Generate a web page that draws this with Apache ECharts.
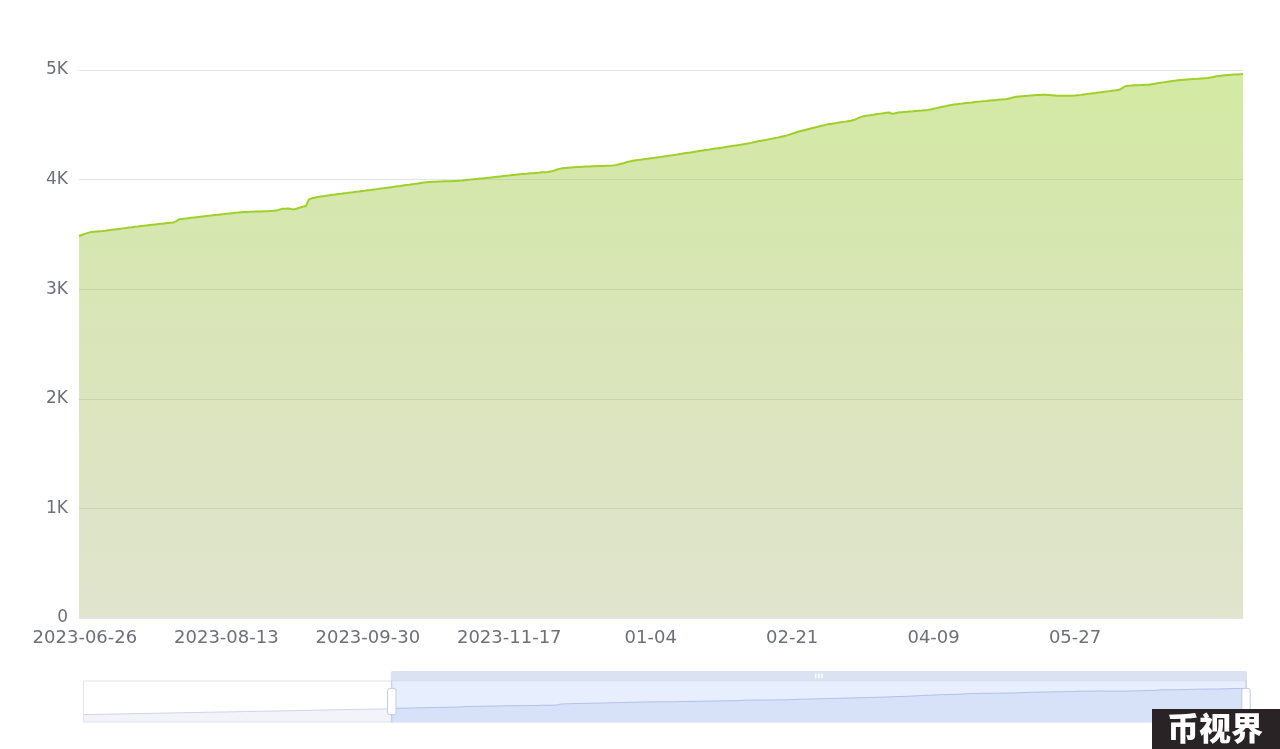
<!DOCTYPE html>
<html>
<head>
<meta charset="utf-8">
<script src="https://cdn.jsdelivr.net/npm/echarts@6/dist/echarts.min.js"></script>
<style>
html,body{margin:0;padding:0;background:#fff;}
#main{width:1280px;height:749px;}
</style>
</head>
<body>
<div id="main"></div>
<script>
// ---- data ----
const firstDate = '2023-02-02';
const lastDate = '2024-07-23';
const zoomStartDate = '2023-06-24';
const xTickLabels = ['2023-06-26', '2023-08-13', '2023-09-30', '2023-11-17', '01-04', '02-21', '04-09', '05-27'];
const yTickValues = [0, 1000, 2000, 3000, 4000, 5000];
const yTickLabels = ['0', '1K', '2K', '3K', '4K', '5K'];

// values before the zoom window (only seen in the slider shadow)
const earlyValues = [
  3052, 3055, 3057, 3061, 3063, 3066, 3070, 3072, 3075, 3079,
  3081, 3084, 3088, 3090, 3093, 3097, 3099, 3102, 3106, 3108,
  3111, 3115, 3118, 3120, 3124, 3127, 3129, 3133, 3136, 3139,
  3142, 3145, 3148, 3151, 3154, 3157, 3160, 3163, 3166, 3170,
  3172, 3175, 3179, 3181, 3185, 3188, 3190, 3194, 3197, 3199,
  3203, 3206, 3209, 3212, 3215, 3218, 3221, 3224, 3227, 3230,
  3233, 3236, 3240, 3242, 3245, 3249, 3251, 3255, 3258, 3260,
  3264, 3267, 3270, 3273, 3276, 3279, 3282, 3285, 3288, 3291,
  3294, 3297, 3300, 3303, 3306, 3309, 3312, 3315, 3318, 3321,
  3324, 3327, 3330, 3333, 3336, 3339, 3342, 3345, 3348, 3351,
  3354, 3357, 3360, 3363, 3366, 3369, 3372, 3375, 3378, 3381,
  3384, 3387, 3390, 3393, 3396, 3399, 3402, 3405, 3408, 3411,
  3414, 3417, 3420, 3423, 3426, 3429, 3432, 3435, 3438, 3441,
  3444, 3447, 3450, 3453, 3456, 3459, 3462, 3465, 3468, 3471,
  3476, 3480
];

// values inside the zoom window (2023-06-24 .. 2024-07-23)
const windowValues = [
  3485, 3495, 3505, 3514, 3521, 3525, 3527, 3529, 3531, 3534,
  3538, 3542, 3545, 3548, 3551, 3555, 3558, 3562, 3565, 3569,
  3572, 3576, 3579, 3582, 3585, 3588, 3591, 3594, 3597, 3600,
  3603, 3606, 3609, 3622, 3638, 3641, 3644, 3648, 3651, 3654,
  3657, 3660, 3664, 3667, 3670, 3673, 3676, 3679, 3682, 3685,
  3688, 3691, 3694, 3697, 3699, 3702, 3704, 3705, 3706, 3707,
  3708, 3709, 3710, 3711, 3712, 3714, 3715, 3717, 3726, 3734,
  3735, 3736, 3731, 3728, 3736, 3745, 3752, 3759, 3818, 3829,
  3835, 3841, 3845, 3849, 3853, 3857, 3861, 3864, 3868, 3871,
  3875, 3878, 3882, 3885, 3889, 3892, 3896, 3899, 3903, 3906,
  3910, 3913, 3917, 3920, 3924, 3927, 3931, 3935, 3939, 3942,
  3946, 3950, 3953, 3957, 3961, 3965, 3969, 3973, 3976, 3978,
  3980, 3981, 3982, 3983, 3984, 3985, 3986, 3987, 3988, 3990,
  3992, 3995, 3998, 4000, 4003, 4006, 4009, 4011, 4014, 4017,
  4020, 4023, 4026, 4029, 4032, 4035, 4038, 4041, 4044, 4047,
  4050, 4052, 4054, 4057, 4059, 4061, 4063, 4066, 4068, 4070,
  4073, 4080, 4090, 4098, 4104, 4106, 4108, 4110, 4112, 4114,
  4116, 4118, 4119, 4120, 4121, 4122, 4123, 4124, 4125, 4126,
  4127, 4128, 4132, 4138, 4145, 4152, 4160, 4166, 4172, 4177,
  4180, 4183, 4187, 4190, 4194, 4198, 4201, 4205, 4209, 4213,
  4217, 4221, 4225, 4229, 4234, 4238, 4242, 4246, 4250, 4255,
  4259, 4263, 4267, 4271, 4275, 4279, 4283, 4287, 4291, 4295,
  4300, 4304, 4308, 4312, 4316, 4320, 4325, 4330, 4335, 4341,
  4347, 4352, 4357, 4362, 4367, 4372, 4378, 4383, 4389, 4395,
  4401, 4410, 4419, 4428, 4436, 4443, 4450, 4457, 4464, 4471,
  4478, 4484, 4491, 4497, 4504, 4508, 4512, 4516, 4521, 4525,
  4529, 4533, 4537, 4543, 4556, 4568, 4577, 4582, 4586, 4590,
  4594, 4598, 4602, 4606, 4609, 4612, 4600, 4605, 4612, 4614,
  4616, 4618, 4621, 4623, 4626, 4628, 4630, 4633, 4635, 4640,
  4646, 4652, 4658, 4664, 4670, 4676, 4681, 4685, 4688, 4691,
  4695, 4698, 4701, 4704, 4708, 4711, 4713, 4716, 4718, 4721,
  4723, 4725, 4728, 4730, 4732, 4735, 4743, 4750, 4756, 4759,
  4761, 4763, 4765, 4767, 4769, 4771, 4773, 4775, 4774, 4772,
  4770, 4768, 4766, 4766, 4765, 4765, 4766, 4766, 4767, 4770,
  4773, 4777, 4780, 4784, 4788, 4791, 4795, 4798, 4801, 4805,
  4808, 4812, 4815, 4819, 4835, 4852, 4857, 4858, 4860, 4861,
  4862, 4864, 4865, 4866, 4870, 4874, 4879, 4883, 4887, 4891,
  4895, 4899, 4903, 4906, 4909, 4911, 4913, 4915, 4917, 4919,
  4921, 4923, 4925, 4927, 4932, 4937, 4942, 4946, 4949, 4952,
  4954, 4956, 4958, 4960, 4962, 4964
];

// ---- build categories (dates; 2023 with year, 2024 as MM-DD) ----
function fmtDate(d) {
  const y = d.getUTCFullYear();
  const m = String(d.getUTCMonth() + 1).padStart(2, '0');
  const dd = String(d.getUTCDate()).padStart(2, '0');
  return y === 2023 ? (y + '-' + m + '-' + dd) : (m + '-' + dd);
}
function buildCategories(from, to) {
  const out = [];
  let t = Date.parse(from + 'T00:00:00Z');
  const end = Date.parse(to + 'T00:00:00Z');
  while (t <= end) { out.push(fmtDate(new Date(t))); t += 86400000; }
  return out;
}
const categories = buildCategories(firstDate, lastDate);
const values = earlyValues.concat(windowValues);
const zoomStartIndex = categories.indexOf(zoomStartDate);
const zoomEndIndex = categories.length - 1;

const chart = echarts.init(document.getElementById('main'), null, {renderer: 'canvas'});
const labelColor = '#6e7079';

chart.setOption({
  animation: false,
  backgroundColor: '#ffffff',
  grid: {left: 79, right: 37, top: 70, bottom: 131, containLabel: false},
  xAxis: {
    type: 'category',
    data: categories,
    boundaryGap: false,
    axisLine: {show: false},
    axisTick: {show: false},
    splitLine: {show: false},
    axisLabel: {
      interval: function (index, value) { return xTickLabels.indexOf(value) >= 0; },
      color: labelColor,
      fontSize: 18,
      fontFamily: 'DejaVu Sans',
      margin: 11
    }
  },
  yAxis: {
    type: 'value',
    min: yTickValues[0],
    max: yTickValues[yTickValues.length - 1],
    interval: 1000,
    axisLine: {show: false},
    axisTick: {show: false},
    splitLine: {lineStyle: {color: '#e0e6f1', width: 1}},
    axisLabel: {
      color: labelColor,
      fontSize: 17,
      fontFamily: 'DejaVu Sans',
      margin: 11,
      formatter: function (v) {
        const i = yTickValues.indexOf(v);
        return i >= 0 ? yTickLabels[i] : '';
      }
    }
  },
  dataZoom: [{
    type: 'slider',
    xAxisIndex: 0,
    startValue: zoomStartIndex,
    endValue: zoomEndIndex,
    left: 79,
    right: 37,
    top: 671,
    height: 42,
    moveHandleSize: 10,
    moveHandleStyle: {color: '#d2dbee', opacity: 0.8},
    showDetail: false
  }],
  series: [{
    type: 'line',
    data: values,
    showSymbol: false,
    smooth: false,
    lineStyle: {color: '#9fd02a', width: 2},
    itemStyle: {color: '#9fd02a'},
    areaStyle: {
      opacity: 1,
      color: new echarts.graphic.LinearGradient(0, 0, 0, 1, [
        {offset: 0, color: 'rgba(150,205,35,0.42)'},
        {offset: 1, color: 'rgba(135,150,60,0.25)'}
      ])
    }
  }],
  graphic: [
    {type: 'rect', left: 1152, top: 709, z: 100,
     shape: {width: 128, height: 40}, style: {fill: '#2a2325'}},
    {type: 'text', left: 1167, top: 712, z: 101,
     style: {text: '币视界', fill: '#ffffff', font: '900 32px "Noto Sans CJK SC"'}}
  ]
});
</script>
</body>
</html>
